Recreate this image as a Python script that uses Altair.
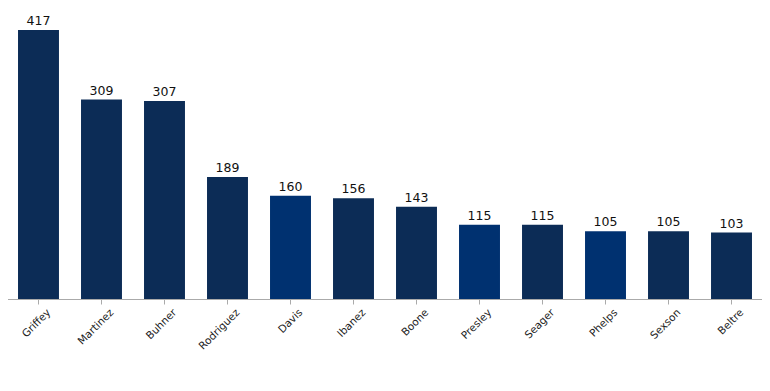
import altair as alt
import pandas as pd

players = ["Griffey", "Martinez", "Buhner", "Rodriguez", "Davis", "Ibanez",
           "Boone", "Presley", "Seager", "Phelps", "Sexson", "Beltre"]
home_runs = [417, 309, 307, 189, 160, 156, 143, 115, 115, 105, 105, 103]
color_group = ["a", "a", "a", "a", "b", "a", "a", "b", "a", "b", "a", "a"]

df = pd.DataFrame({"player": players, "hr": home_runs, "grp": color_group})

x = alt.X("player:N", sort=players, title=None,
          scale=alt.Scale(paddingInner=0.35, paddingOuter=0.286),
          axis=alt.Axis(labelAngle=-45, labelFontSize=10.5, labelFont="DejaVu Sans",
                        labelColor="#222", domainColor="#aaa", tickColor="#aaa",
                        tickSize=5, labelPadding=3, labelOffset=7))
base = alt.Chart(df)
bars = base.mark_bar().encode(
    x=x,
    y=alt.Y("hr:Q", scale=alt.Scale(domain=[0, 451], nice=False), axis=None),
    color=alt.Color("grp:N", scale=alt.Scale(domain=["a", "b"], range=["#0C2C56", "#003170"]), legend=None),
)
text = base.mark_text(dy=-9, fontSize=12.5, font="DejaVu Sans", color="#111").encode(
    x=alt.X("player:N", sort=players),
    y="hr:Q",
    text="hr:Q",
)
chart = (bars + text).properties(
    width=770, height=291,
    padding={"left": -8, "top": 0, "right": -8, "bottom": 0},
).configure_view(stroke=None)
chart.save("out.html", embed_options={"renderer": "svg", "actions": False})
